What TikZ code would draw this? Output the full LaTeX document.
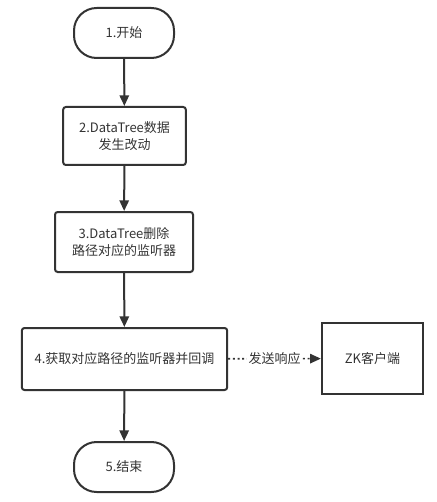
\documentclass[tikz,border=0pt]{standalone}
\usepackage{fontspec}
\setmainfont{Noto Sans CJK SC}
\usetikzlibrary{arrows.meta}
\begin{document}
\begin{tikzpicture}[x=0.75pt,y=-0.75pt,
    every node/.style={font=\fontsize{9.75}{13}\selectfont,text=black!80,align=center},
    term/.style={draw=black!80,line width=1.5pt,rounded corners=17pt,minimum width=75pt,minimum height=37.5pt},
    proc/.style={draw=black!80,line width=1.5pt,rounded corners=2pt},
    flow/.style={draw=black!80,line width=1.5pt,-{Triangle[length=8pt,width=7pt]}}]
   \useasboundingbox (0,0) rectangle (436,502);
   \node[term] (start) at (124,33) {1.开始};
   \node[proc,minimum width=92pt,minimum height=43.5pt] (change) at (124.5,136) {2.DataTree数据\\发生改动};
   \node[proc,minimum width=103.5pt,minimum height=45pt] (remove) at (124,242) {3.DataTree删除\\路径对应的监听器};
   \node[proc,minimum width=154pt,minimum height=46.5pt] (callback) at (124.5,359) {4.获取对应路径的监听器并回调};
   \node[draw=black!80,line width=1.5pt,minimum width=76pt,minimum height=53pt] (client) at (372.5,358.5) {ZK客户端};
   \node[term] (stop) at (124,467) {5.结束};
   \draw[flow] (start) -- (change);
   \draw[flow] (change) -- (remove);
   \draw[flow] (remove) -- (callback);
   \draw[flow] (callback) -- (stop);
   \draw[flow,dotted,line width=1.2pt] (callback) -- (client) node[midway,fill=white,inner sep=1pt] {发送响应};
\end{tikzpicture}
\end{document}
